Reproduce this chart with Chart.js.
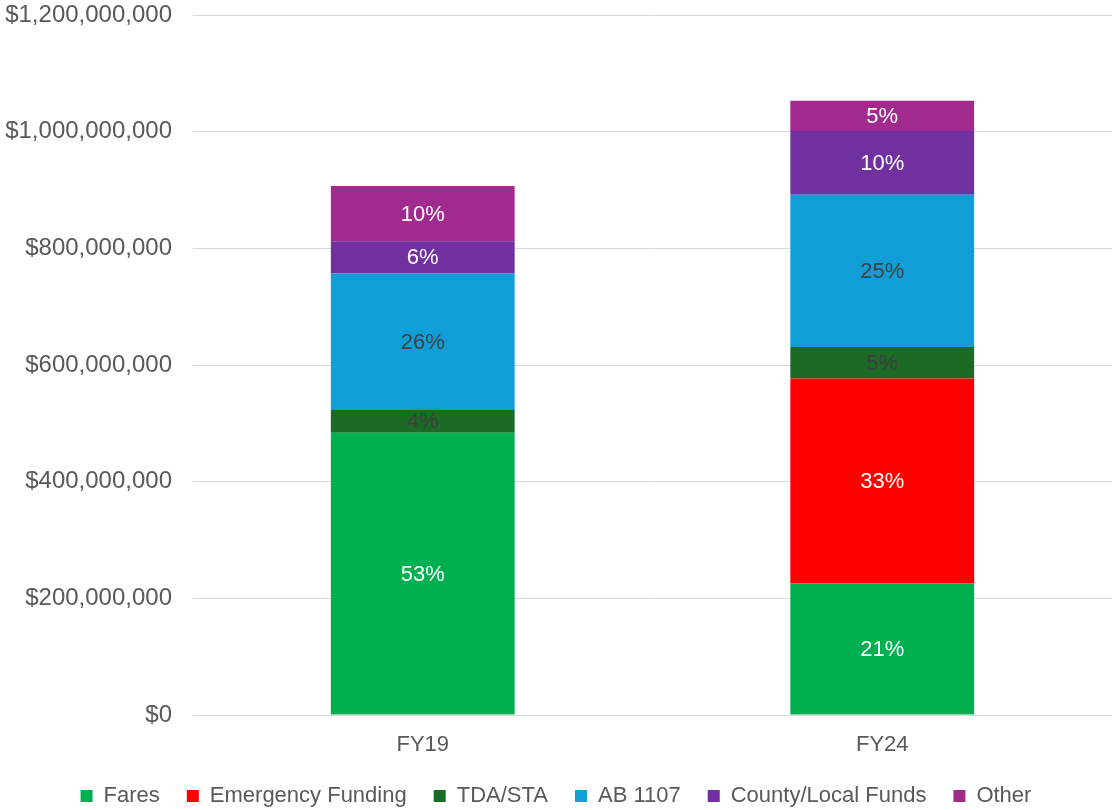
<!DOCTYPE html>
<html>
<head>
<meta charset="utf-8">
<script src="https://cdn.jsdelivr.net/npm/chart.js@4/dist/chart.umd.min.js"></script>
<style>
  html, body { margin: 0; padding: 0; background: #fff; }
  #wrap { width: 1112px; height: 810px; }
</style>
</head>
<body>
<div id="wrap"><canvas id="fundingChart" width="1112" height="810"></canvas></div>
<script>
const years = ["FY19", "FY24"];
const fares = [484000000, 226000000];
const emergencyFunding = [0, 351000000];
const tdaSta = [39000000, 54000000];
const ab1107 = [234000000, 261000000];
const countyLocal = [55000000, 109000000];
const other = [95000000, 52000000];
const yTicks = [0, 200000000, 400000000, 600000000, 800000000, 1000000000, 1200000000];

const FONT = "'Liberation Sans', Arial, sans-serif";

const seriesList = [
    { label: "Fares", data: fares, color: "#00B050", text: "#ffffff" },
    { label: "Emergency Funding", data: emergencyFunding, color: "#FF0000", text: "#ffffff" },
    { label: "TDA/STA", data: tdaSta, color: "#1B6A25", text: "#404040" },
    { label: "AB 1107", data: ab1107, color: "#119ED7", text: "#404040" },
    { label: "County/Local Funds", data: countyLocal, color: "#7030A0", text: "#ffffff" },
    { label: "Other", data: other, color: "#A12A8F", text: "#ffffff" }
];

function totalFor(i) {
    let sum = 0;
    seriesList.forEach(s => sum += s.data[i]);
    return sum;
}

// percent of the year's total, drawn in the middle of each segment
const segmentLabels = {
    id: "segmentLabels",
    afterDatasetsDraw(chart) {
        let ctx = chart.ctx;
        ctx.save();
        ctx.font = "22px " + FONT;
        ctx.textAlign = "center";
        ctx.textBaseline = "middle";
        chart.data.datasets.forEach((ds, di) => {
            let meta = chart.getDatasetMeta(di);
            meta.data.forEach((bar, i) => {
                let v = ds.data[i];
                if (!v) return;
                let pct = Math.round(v / totalFor(i) * 100) + "%";
                ctx.fillStyle = seriesList[di].text;
                ctx.fillText(pct, bar.x, (bar.y + bar.base) / 2 + 1);
            });
        });
        ctx.restore();
    }
};

let chartContext = document.getElementById("fundingChart").getContext("2d");
let chart = new Chart(chartContext, {
    type: "bar",
    data: {
        labels: years,
        datasets: seriesList.map(s => ({
            label: s.label,
            data: s.data,
            backgroundColor: s.color,
            borderWidth: 0,
            barPercentage: 0.4,
            categoryPercentage: 1.0
        }))
    },
    options: {
        responsive: false,
        animation: false,
        layout: { autoPadding: false, padding: { top: 15, right: 0, left: 0, bottom: -7 } },
        plugins: {
            tooltip: { enabled: false },
            legend: {
                position: "bottom",
                labels: {
                    boxWidth: 12,
                    boxHeight: 12,
                    padding: 27,
                    color: "#595959",
                    font: { family: FONT, size: 22 }
                }
            }
        },
        scales: {
            x: {
                stacked: true,
                afterFit: scale => { scale.height = 43; },
                grid: { display: false, drawTicks: false },
                border: { display: false },
                ticks: {
                    color: "#595959",
                    padding: 17,
                    font: { family: FONT, size: 22 }
                }
            },
            y: {
                stacked: true,
                min: 0,
                max: 1200000000,
                afterBuildTicks: scale => { scale.ticks = yTicks.map(v => ({ value: v })); },
                afterFit: scale => {
                    scale.width = 193;
                    scale.paddingTop = 0;
                    scale.paddingBottom = 0;
                },
                grid: { color: "#D9D9D9", lineWidth: 1, drawTicks: false },
                border: { display: false },
                ticks: {
                    color: "#595959",
                    padding: 21,
                    font: { family: FONT, size: 24 },
                    callback: v => "$" + Number(v).toLocaleString("en-US")
                }
            }
        }
    },
    plugins: [segmentLabels]
});
</script>
</body>
</html>
